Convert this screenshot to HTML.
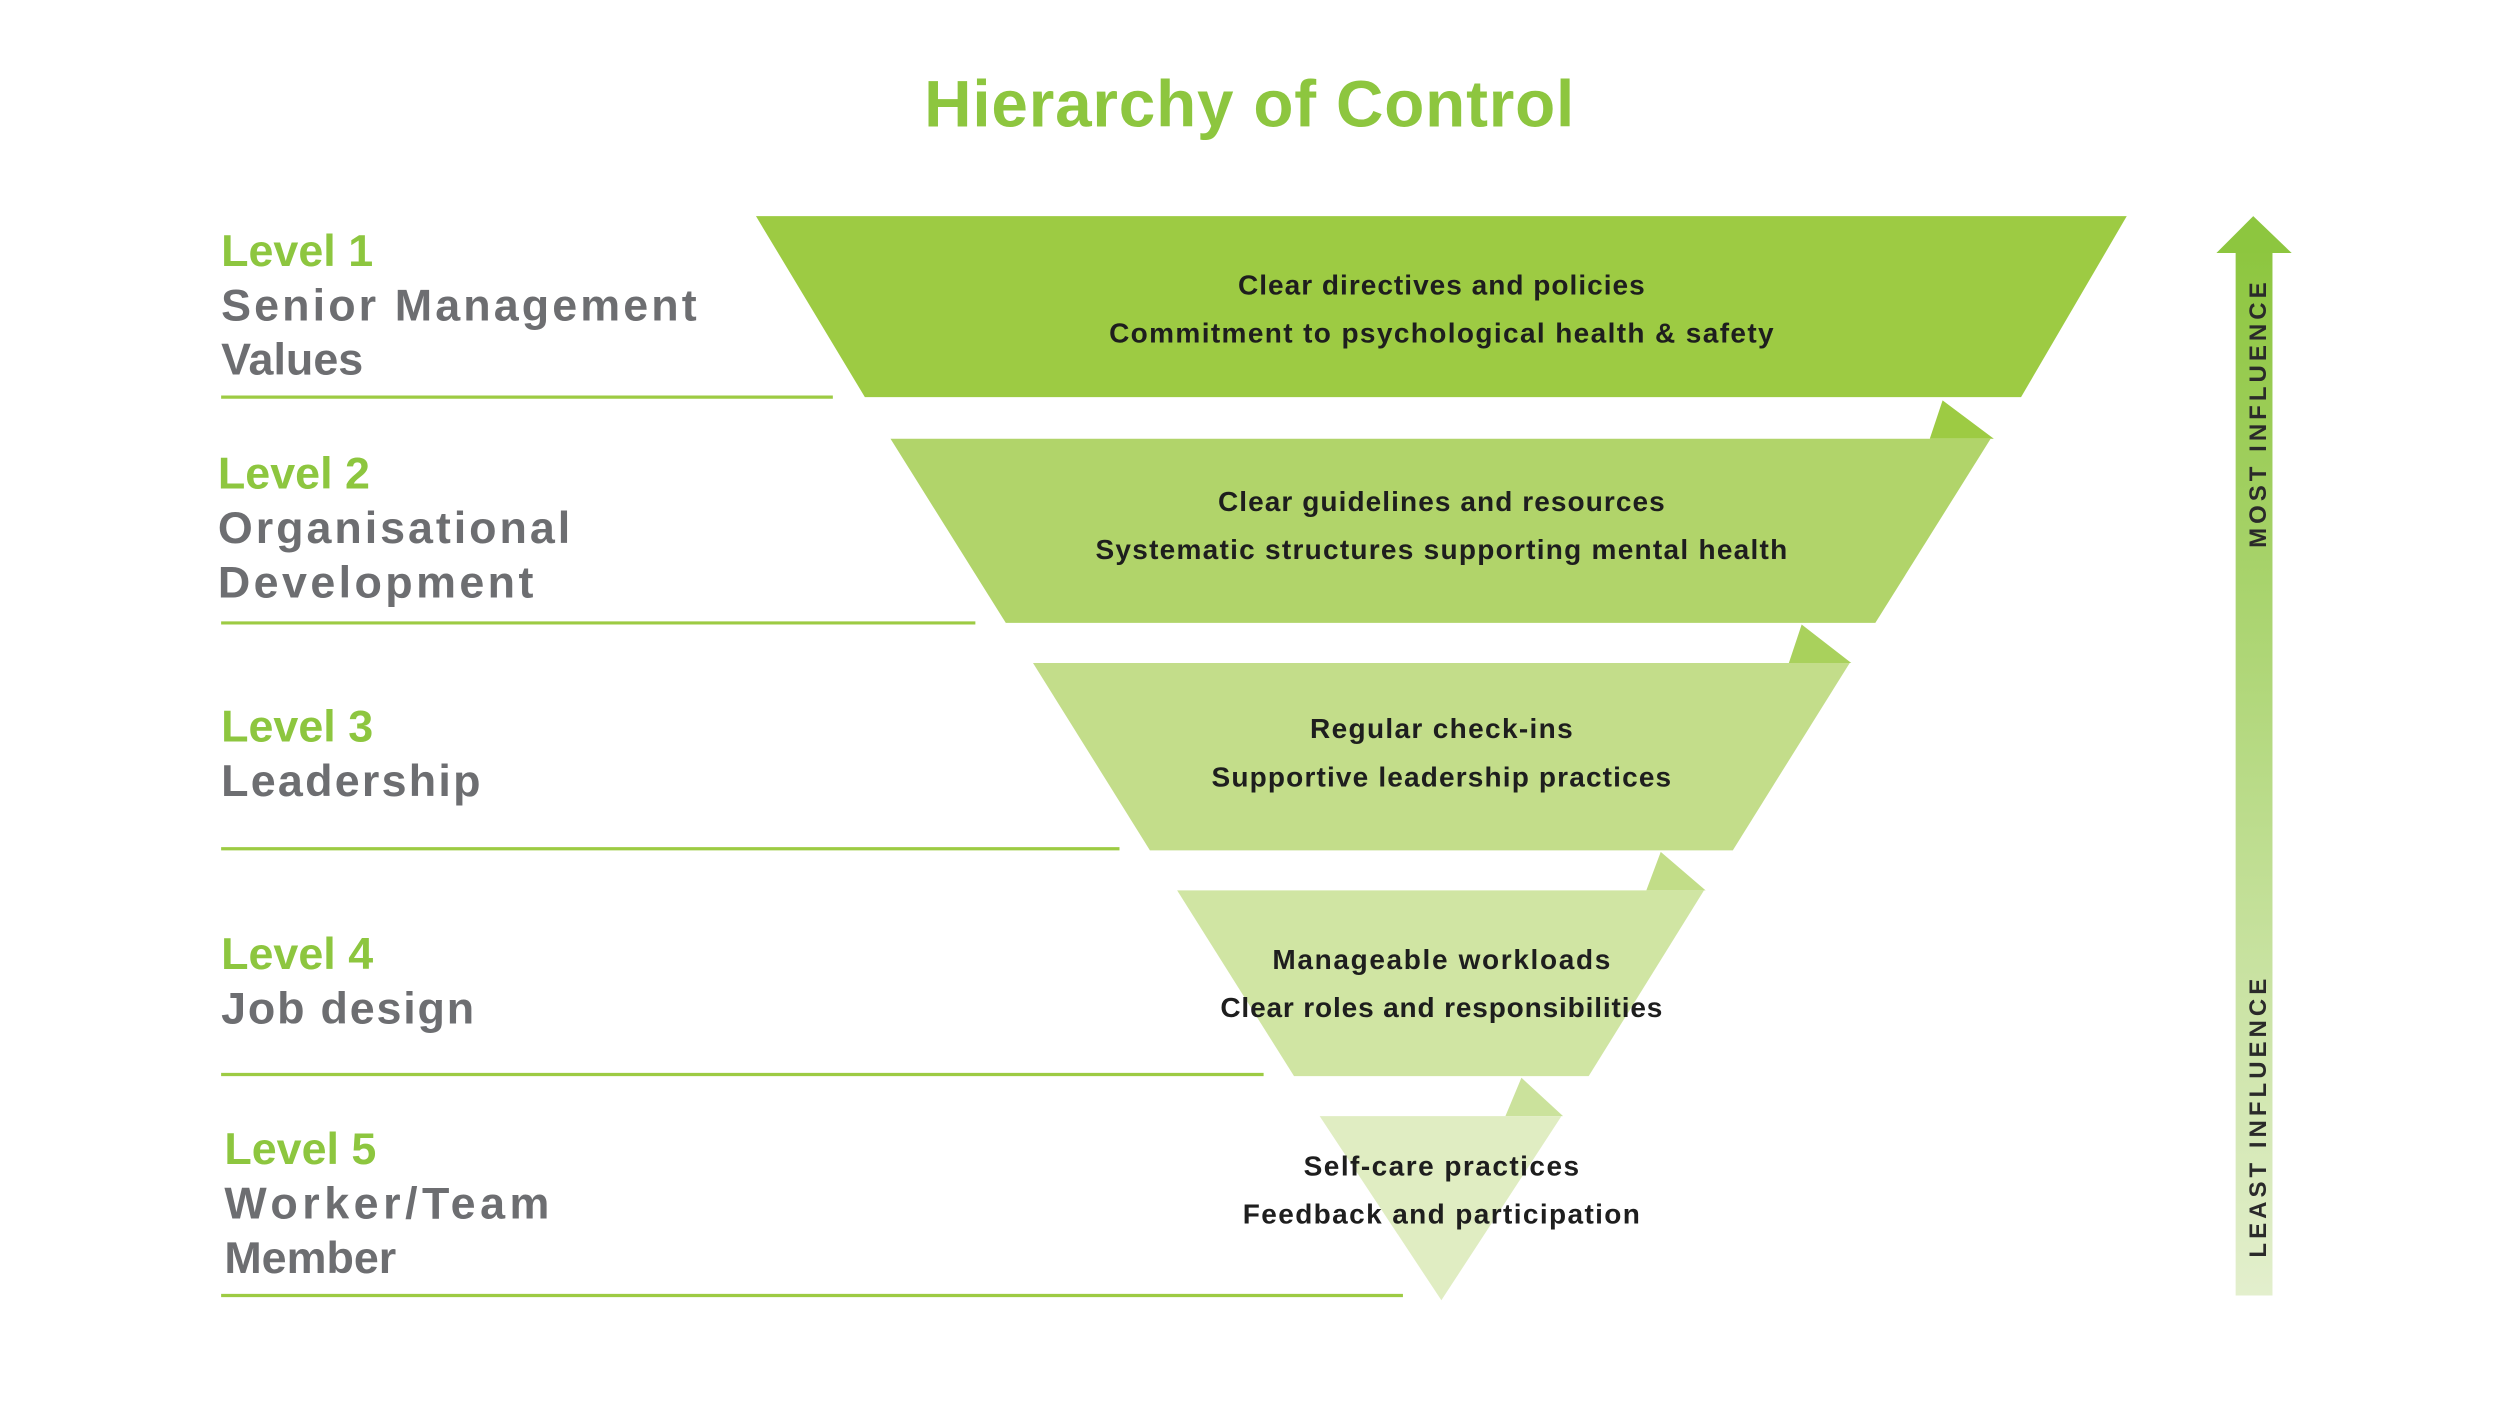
<!DOCTYPE html>
<html><head><meta charset="utf-8"><style>
html,body{margin:0;padding:0;background:#fff;}
svg{display:block;}
text{font-family:"Liberation Sans",sans-serif;}
.t{font-size:17.5px;font-weight:bold;fill:#1e1e1e;text-anchor:middle;}
.lv{font-size:28px;font-weight:bold;fill:#8dc63f;}
.lb{font-size:28px;font-weight:bold;fill:#6d6e71;}
</style></head><body>
<svg width="2500" height="1406" viewBox="0 0 1561 878" xmlns="http://www.w3.org/2000/svg">
<defs><linearGradient id="g" x1="0" y1="0" x2="0" y2="1">
<stop offset="0" stop-color="#8dc63f"/><stop offset="1" stop-color="#e3efcd"/></linearGradient></defs>
<text x="780" y="79" text-anchor="middle" font-size="41" font-weight="bold" fill="#8dc63f" textLength="406">Hierarchy of Control</text>

<!-- underlines -->
<g stroke="#9dcb43" stroke-width="2">
<line x1="138" y1="248" x2="520" y2="248"/>
<line x1="138" y1="389" x2="609" y2="389"/>
<line x1="138" y1="530" x2="699" y2="530"/>
<line x1="138" y1="671" x2="789" y2="671"/>
<line x1="138" y1="809" x2="876" y2="809"/>
</g>

<!-- folds -->
<polygon points="1213,250 1245,274 1205,274" fill="#9dcb43"/>
<polygon points="1125,390 1156,414 1117,414" fill="#a9d15c"/>
<polygon points="1037,532 1065,556 1028,556" fill="#c2dd88"/>
<polygon points="950,673 976,697 940,697" fill="#cbe29c"/>

<polygon points="472,135 1328,135 1262,248 540,248" fill="#9dcb43"/>
<polygon points="556,274 1243,274 1171,389 628,389" fill="#b1d46a"/>
<polygon points="645,414 1155,414 1082,531 718,531" fill="#c3dd8a"/>
<polygon points="735,556 1064,556 992,672 808,672" fill="#d0e5a3"/>
<polygon points="824,697 975,697 900,812" fill="#e0edc2"/>

<text class="t" x="900" y="184" textLength="254">Clear directives and policies</text>
<text class="t" x="900" y="214" textLength="415">Commitment to psychological health &amp; safety</text>
<text class="t" x="900" y="319" textLength="279">Clear guidelines and resources</text>
<text class="t" x="900" y="349" textLength="432">Systematic structures supporting mental health</text>
<text class="t" x="900" y="461" textLength="164">Regular check-ins</text>
<text class="t" x="900" y="491" textLength="287">Supportive leadership practices</text>
<text class="t" x="900" y="605" textLength="211">Manageable workloads</text>
<text class="t" x="900" y="635" textLength="276">Clear roles and responsibilities</text>
<text class="t" x="900" y="734" textLength="172">Self-care practices</text>
<text class="t" x="900" y="764" textLength="248">Feedback and participation</text>

<text class="lv" x="138" y="166">Level 1</text>
<text class="lb" x="138" y="200" textLength="297">Senior Management</text>
<text class="lb" x="138" y="234">Values</text>
<text class="lv" x="136" y="305">Level 2</text>
<text class="lb" x="136" y="339" textLength="220">Organisational</text>
<text class="lb" x="136" y="373" textLength="197">Development</text>
<text class="lv" x="138" y="463">Level 3</text>
<text class="lb" x="138" y="497" textLength="162">Leadership</text>
<text class="lv" x="138" y="605">Level 4</text>
<text class="lb" x="138" y="639" textLength="158">Job design</text>
<text class="lv" x="140" y="727">Level 5</text>
<text class="lb" x="140" y="761" textLength="203">Worker/Team</text>
<text class="lb" x="140" y="795">Member</text>

<!-- arrow -->
<rect x="1396" y="155" width="23" height="654" fill="url(#g)"/>
<polygon points="1407,135 1431,158 1384,158" fill="#8dc63f"/>
<text transform="translate(1415,258) rotate(-90)" text-anchor="middle" font-size="15" font-weight="bold" fill="#2a2a2a" letter-spacing="2.5">MOST INFLUENCE</text>
<text transform="translate(1415,697) rotate(-90)" text-anchor="middle" font-size="15" font-weight="bold" fill="#2a2a2a" letter-spacing="2.5">LEAST INFLUENCE</text>
</svg>
</body></html>
